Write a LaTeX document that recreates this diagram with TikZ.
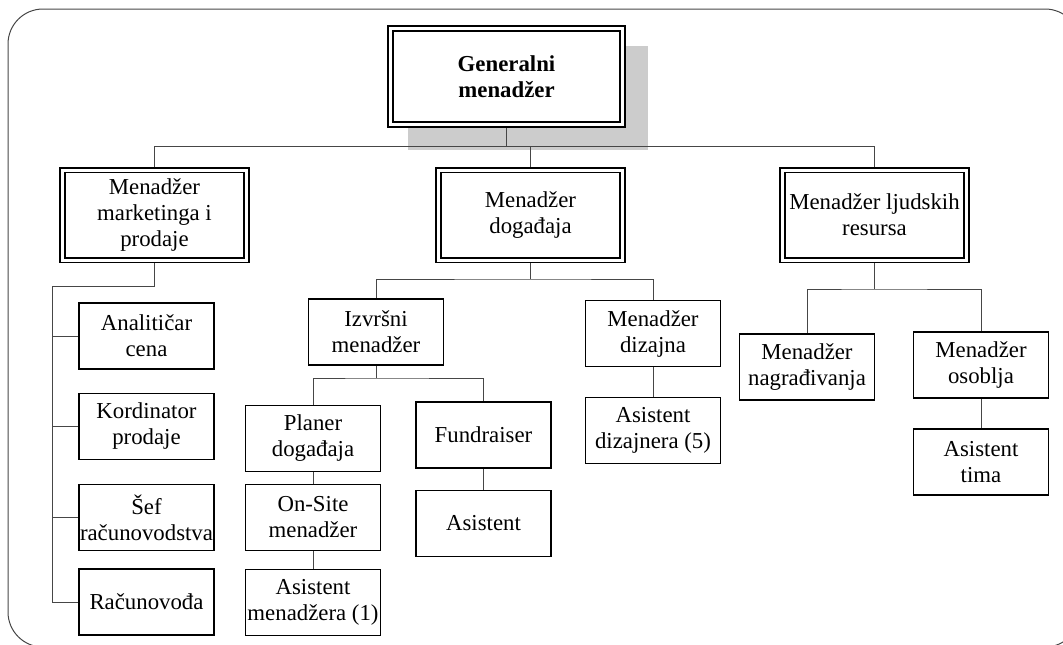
\documentclass[tikz,border=0pt]{standalone}
\usepackage{fontspec}
\setmainfont{Liberation Serif}
\usepackage{tikz}
\usetikzlibrary{backgrounds}
\definecolor{linkgray}{RGB}{70, 70, 70}
\definecolor{shadowgray}{RGB}{204, 204, 204}
\tikzset{
  orgtext/.style={font=\fontsize{22.8}{26}\selectfont, align=center, inner sep=0pt, outer sep=0pt},
  chiefbox/.style={orgtext, draw, fill=white, line width=1.8pt, double distance=3pt,
                   minimum width=232pt, minimum height=96pt, font=\fontsize{22.8}{26}\selectfont\bfseries},
  headbox/.style={orgtext, draw, fill=white, line width=1.8pt, double distance=3pt,
                  minimum width=184pt, minimum height=90pt},
  staffbox/.style={orgtext, draw, fill=white, line width=1.4pt,
                   minimum width=135pt, minimum height=66pt},
  link/.style={draw=linkgray, line width=1pt}
}
\begin{document}
\begin{tikzpicture}[x=1pt, y=-1pt]
            \useasboundingbox (0,0) rectangle (1063,645);
            \clip (0,0) rectangle (1063,645);
            % Top
            \node[chiefbox]  (gm)   at (506.5, 76.5) {Generalni\\menadžer};
            % Managers
            \node[headbox]   (mmp)  at (154.5, 215.0) {Menadžer\\marketinga i\\prodaje};
            \node[headbox]   (md)   at (530.5, 215.0) {Menadžer\\događaja};
            \node[headbox]   (mljr) at (874.5, 215.0) {Menadžer ljudskih\\resursa};
            % Marketing column
            \node[staffbox]  (ac)   at (146.5, 336.0) {Analitičar\\cena};
            \node[staffbox]  (kp)   at (146.5, 426.5) {Kordinator\\prodaje};
            \node[staffbox]  (sr)   at (146.5, 517.5) {Šef\\računovodstva};
            \node[staffbox]  (rc)   at (146.5, 602.0) {Računovođa};
            % Events
            \node[staffbox]  (im)   at (376.0, 332.0) {Izvršni\\menadžer};
            \node[staffbox]  (pd)   at (313.0, 438.5) {Planer\\događaja};
            \node[staffbox]  (os)   at (313.0, 517.5) {On-Site\\menadžer};
            \node[staffbox]  (am)   at (313.0, 602.5) {Asistent\\menadžera (1)};
            \node[staffbox]  (fr)   at (483.5, 435.0) {Fundraiser};
            \node[staffbox]  (as)   at (483.5, 523.5) {Asistent};
            \node[staffbox]  (mdz)  at (653.0, 333.5) {Menadžer\\dizajna};
            \node[staffbox]  (ad)   at (653.0, 430.5) {Asistent\\dizajnera (5)};
            % Human resources
            \node[staffbox]  (mn)   at (807.0, 367.0) {Menadžer\\nagrađivanja};
            \node[staffbox]  (mo)   at (981.0, 365.0) {Menadžer\\osoblja};
            \node[staffbox]  (at)   at (981.0, 462.0) {Asistent\\tima};
            \begin{scope}[on background layer]
            % Frame & shadow
            \draw[linkgray, line width=1pt, rounded corners=35pt] (8,9) rectangle (1080,647);
            \fill[shadowgray] (408,46) rectangle (648,150);
            % Bars
            \coordinate (bar)  at (0, 146);
            \coordinate (mbar) at (530.5, 279);
            \coordinate (ibar) at (376.0, 378);
            \coordinate (rbar) at (874.5, 289);
            \coordinate (spine) at (52, 286);
            \draw[link] (gm.south) -- (gm.south |- bar);
            \draw[link] (mmp.north) -- (mmp.north |- bar) -- (mljr.north |- bar) -- (mljr.north);
            \draw[link] (md.north) -- (md.north |- bar);
            % Marketing links
            \draw[link] (mmp.south) |- (spine) -- (spine |- rc.west) -- (rc.west);
            \draw[link] (spine |- ac.west) -- (ac.west);
            \draw[link] (spine |- kp.west) -- (kp.west);
            \draw[link] (spine |- sr.west) -- (sr.west);
            % Events links
            \draw[link] (md.south) -- (mbar);
            \draw[link] (im.north) |- (mbar) -| (mdz.north);
            \draw[link] (im.south) -- (ibar);
            \draw[link] (pd.north) |- (ibar) -| (fr.north);
            \draw[link] (pd.south) -- (os.north);
            \draw[link] (os.south) -- (am.north);
            \draw[link] (fr.south) -- (as.north);
            \draw[link] (mdz.south) -- (ad.north);
            % HR links
            \draw[link] (mljr.south) -- (rbar);
            \draw[link] (mn.north) |- (rbar) -| (mo.north);
            \draw[link] (mo.south) -- (at.north);
            \end{scope}
        \end{tikzpicture}
\end{document}
